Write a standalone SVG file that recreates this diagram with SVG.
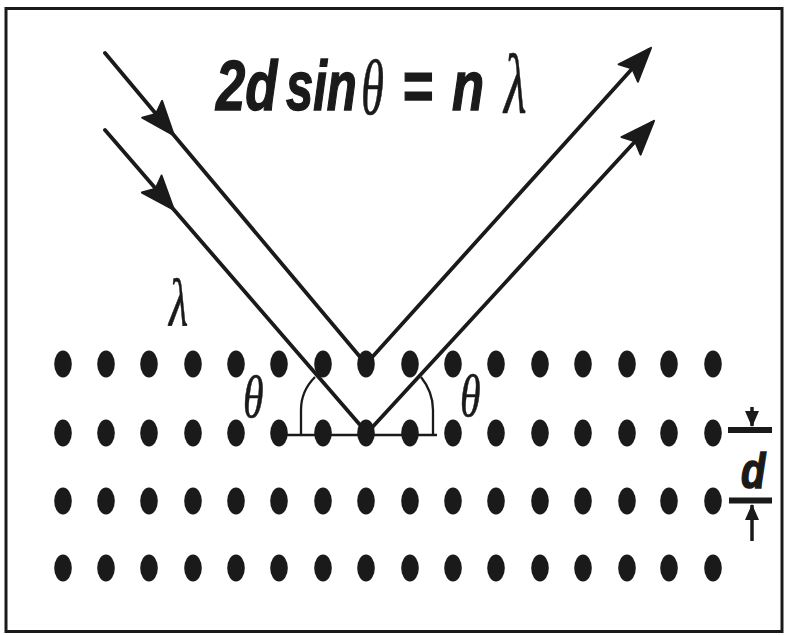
<svg xmlns="http://www.w3.org/2000/svg" width="785" height="635" viewBox="0 0 785 635">
<style>
.ray{fill:none;stroke:#1a1a1a;stroke-width:3.8;stroke-linecap:round}
.thin{fill:none;stroke:#1a1a1a;stroke-width:2.3}
.bar{fill:none;stroke:#1a1a1a;stroke-width:6}
.stem{fill:none;stroke:#1a1a1a;stroke-width:3.5}
.dot{fill:#1a1a1a}
.f{font-family:"Liberation Sans",Arial,sans-serif;font-weight:bold;font-style:italic;fill:#1a1a1a;stroke:#1a1a1a;stroke-width:1.5}
.g{font-family:"Liberation Serif","Times New Roman",serif;font-style:italic;fill:#1a1a1a;stroke:#1a1a1a;stroke-width:0.6}
</style>
<defs>
<marker id="ah" markerUnits="userSpaceOnUse" markerWidth="40" markerHeight="40" viewBox="-34 -20 40 40" refX="0" refY="0" orient="auto" overflow="visible">
<path d="M3,0 L-31,-13 L-25,0 L-31,13 Z" fill="#1a1a1a" stroke="#1a1a1a" stroke-width="2" stroke-linejoin="round"/>
</marker>
<marker id="sa" markerUnits="userSpaceOnUse" markerWidth="24" markerHeight="24" viewBox="-18 -10 24 20" refX="0" refY="0" orient="auto" overflow="visible">
<path d="M1,0 L-15,-7 L-15,7 Z" fill="#1a1a1a"/>
</marker>
<ellipse id="d" rx="8.8" ry="13.5" class="dot"/>
</defs>
<rect x="0" y="0" width="785" height="635" fill="#fff"/>
<rect id="frame" x="6" y="8.5" width="776" height="623" fill="none" stroke="#1a1a1a" stroke-width="3"/>

<g id="row1">
<use href="#d" x="63" y="364"/><use href="#d" x="106" y="364"/><use href="#d" x="149" y="364"/><use href="#d" x="193" y="364"/><use href="#d" x="236" y="364"/><use href="#d" x="279" y="364"/><use href="#d" x="323" y="364"/><use href="#d" x="366" y="364"/><use href="#d" x="410" y="364"/><use href="#d" x="453" y="364"/><use href="#d" x="496" y="364"/><use href="#d" x="540" y="364"/><use href="#d" x="583" y="364"/><use href="#d" x="627" y="364"/><use href="#d" x="669" y="364"/><use href="#d" x="713" y="364"/>
</g>
<g id="row2">
<use href="#d" x="63" y="433"/><use href="#d" x="106" y="433"/><use href="#d" x="149" y="433"/><use href="#d" x="193" y="433"/><use href="#d" x="236" y="433"/><use href="#d" x="279" y="433"/><use href="#d" x="323" y="433"/><use href="#d" x="366" y="433"/><use href="#d" x="410" y="433"/><use href="#d" x="453" y="433"/><use href="#d" x="496" y="433"/><use href="#d" x="540" y="433"/><use href="#d" x="583" y="433"/><use href="#d" x="627" y="433"/><use href="#d" x="669" y="433"/><use href="#d" x="713" y="433"/>
</g>
<g id="row3">
<use href="#d" x="63" y="501"/><use href="#d" x="106" y="501"/><use href="#d" x="149" y="501"/><use href="#d" x="193" y="501"/><use href="#d" x="236" y="501"/><use href="#d" x="279" y="501"/><use href="#d" x="323" y="501"/><use href="#d" x="366" y="501"/><use href="#d" x="410" y="501"/><use href="#d" x="453" y="501"/><use href="#d" x="496" y="501"/><use href="#d" x="540" y="501"/><use href="#d" x="583" y="501"/><use href="#d" x="627" y="501"/><use href="#d" x="669" y="501"/><use href="#d" x="713" y="501"/>
</g>
<g id="row4">
<use href="#d" x="63" y="568"/><use href="#d" x="106" y="568"/><use href="#d" x="149" y="568"/><use href="#d" x="193" y="568"/><use href="#d" x="236" y="568"/><use href="#d" x="279" y="568"/><use href="#d" x="323" y="568"/><use href="#d" x="366" y="568"/><use href="#d" x="410" y="568"/><use href="#d" x="453" y="568"/><use href="#d" x="496" y="568"/><use href="#d" x="540" y="568"/><use href="#d" x="583" y="568"/><use href="#d" x="627" y="568"/><use href="#d" x="669" y="568"/><use href="#d" x="713" y="568"/>
</g>

<g id="connectors">
<path class="ray" d="M105,53 L172,133 L366,364" marker-mid="url(#ah)"/>
<path class="ray" d="M105,130 L172,207.5 L367,433" marker-mid="url(#ah)"/>
<path class="ray" d="M366,364 L649,50" marker-end="url(#ah)"/>
<path class="ray" d="M367,433 L652,123" marker-end="url(#ah)"/>
<path class="thin" d="M287,435 L437,435"/>
<path class="thin" d="M301,435 L301,410 C301,398 305,387 315,377"/>
<path class="thin" d="M433,435 L433,410 C433,398 429,387 421,377"/>
<g id="dmark">
<path class="bar" d="M728,430 L772,430 M729,500.5 L772,500.5"/>
<path class="stem" d="M752,407 L752,426" marker-end="url(#sa)"/>
<path class="stem" d="M752,541 L752,505" marker-end="url(#sa)"/>
</g>
</g>

<g id="formula">
<text class="f" font-size="70" transform="translate(216,110) scale(0.75,1)">2d</text>
<text class="f" font-size="70" transform="translate(286,110) scale(0.7,1)">sin</text>
<text class="g" font-size="78" transform="translate(361,114) scale(0.6,1)">θ</text>
<text class="f" font-size="70" transform="translate(402,110) scale(0.75,1)">=</text>
<text class="f" font-size="70" transform="translate(452,110) scale(0.75,1)">n</text>
<text class="g" font-size="84" transform="translate(504,112) scale(0.62,1)">λ</text>
</g>
<text id="lambda" class="g" font-size="68" transform="translate(169,326) scale(0.65,1)">λ</text>
<text id="theta1" class="g" font-size="60" transform="translate(243,417) scale(0.7,1)">θ</text>
<text id="theta2" class="g" font-size="60" transform="translate(460,416) scale(0.7,1)">θ</text>
<text id="dlabel" class="f" font-size="50" stroke-width="0.5" transform="translate(741,488) scale(0.8,1)">d</text>
</svg>
